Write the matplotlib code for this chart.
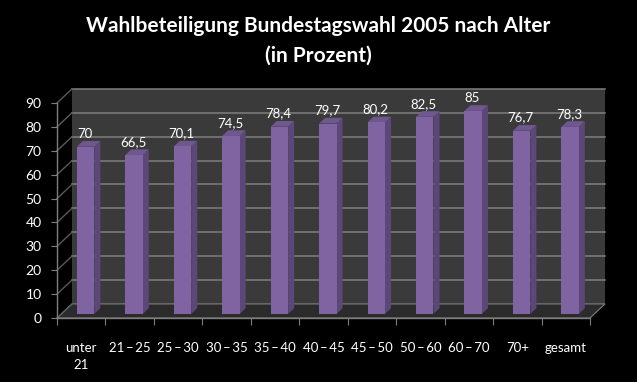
import numpy as np
import matplotlib.pyplot as plt
from matplotlib.patches import Polygon

plt.rcParams['font.family'] = ['Lato', 'DejaVu Sans']

categories = ["unter\n21", "21\u2009–\u200925", "25\u2009–\u200930", "30\u2009–\u200935",
              "35\u2009–\u200940", "40\u2009–\u200945", "45\u2009–\u200950", "50\u2009–\u200960",
              "60\u2009–\u200970", "70+", "gesamt"]
values = [70, 66.5, 70.1, 74.5, 78.4, 79.7, 80.2, 82.5, 85, 76.7, 78.3]
labels = ["70", "66,5", "70,1", "74,5", "78,4", "79,7", "80,2", "82,5", "85", "76,7", "78,3"]
yticks = list(range(0, 100, 10))

n = len(values)
# depth offset of the pseudo-3D box (in data units)
dx, dy = 0.31, 5.9
grid_c = "#7f7f7f"

fig = plt.figure(figsize=(6.37, 3.82), dpi=100, facecolor="black")
ax = fig.add_axes([57 / 637, 64 / 382, 533 / 637, 215 / 382])
ax.set_facecolor("none")
ax.set_xlim(0, n)
ax.set_ylim(0, 90)

# back wall
wall = Polygon([(dx, dy), (n + dx, dy), (n + dx, 90 + dy), (dx, 90 + dy)],
               closed=True, facecolor="#3a3a3a", edgecolor="none", clip_on=False, zorder=0)
ax.add_patch(wall)
# floor
floor = Polygon([(0, 0), (n, 0), (n + dx, dy), (dx, dy)], closed=True,
                facecolor="#2b2b2b", edgecolor=grid_c, lw=0.8, clip_on=False, zorder=1)
ax.add_patch(floor)

for t in yticks:
    if t > 0:
        ax.plot([dx, n + dx], [t + dy, t + dy], color=grid_c, lw=1.1, clip_on=False, zorder=1)
    ax.plot([0, dx], [t, t + dy], color="#5a5a5a", lw=1, clip_on=False, zorder=1)

# bars: front face + side + top
w = 0.36
fz, bz = 0.29, 0.4  # depth position and depth of bars (fraction of box depth)
for i, v in enumerate(values):
    x0 = i + 0.5 - w / 2 + fz * dx
    y0 = fz * dy
    ox, oy = bz * dx, bz * dy
    ax.add_patch(Polygon([(x0 + w, y0), (x0 + w + ox, y0 + oy), (x0 + w + ox, v + y0 + oy), (x0 + w, v + y0)],
                         closed=True, facecolor="#5c4779", edgecolor="none", clip_on=False, zorder=3))
    ax.add_patch(Polygon([(x0, v + y0), (x0 + w, v + y0), (x0 + w + ox, v + y0 + oy), (x0 + ox, v + y0 + oy)],
                         closed=True, facecolor="#6f5790", edgecolor="none", clip_on=False, zorder=3))
    ax.bar(x0, v, width=w, bottom=y0, align="edge", color="#8064a2", zorder=4, clip_on=False)
    ax.text(i + 0.57, v + 7.2, labels[i], color="white", ha="center", va="center",
            fontsize=9.5, zorder=5, clip_on=False)

for s in ["top", "right"]:
    ax.spines[s].set_visible(False)
for s in ["left", "bottom"]:
    ax.spines[s].set_color(grid_c)
    ax.spines[s].set_linewidth(1)

ax.set_yticks(yticks)
ax.set_yticklabels([str(t) for t in yticks], color="white", fontsize=10)
ax.set_xticks(np.arange(n + 1))
ax.set_xticklabels([])
ax.set_xticks(np.arange(n) + 0.5, minor=True)
ax.set_xticklabels(categories, minor=True, color="white", fontsize=9.5, linespacing=1.5)
ax.tick_params(axis="x", which="major", length=5, color=grid_c, direction="out")
ax.tick_params(axis="x", which="minor", length=0, pad=17)
ax.tick_params(axis="y", length=4, color=grid_c, pad=7)

fig.text(0.5, 1 - 41 / 382, "Wahlbeteiligung Bundestagswahl 2005 nach Alter\n(in Prozent)",
         color="white", ha="center", va="center", fontsize=15, fontweight="bold",
         linespacing=1.6)

fig.savefig("out.png", dpi=100, facecolor="black")
